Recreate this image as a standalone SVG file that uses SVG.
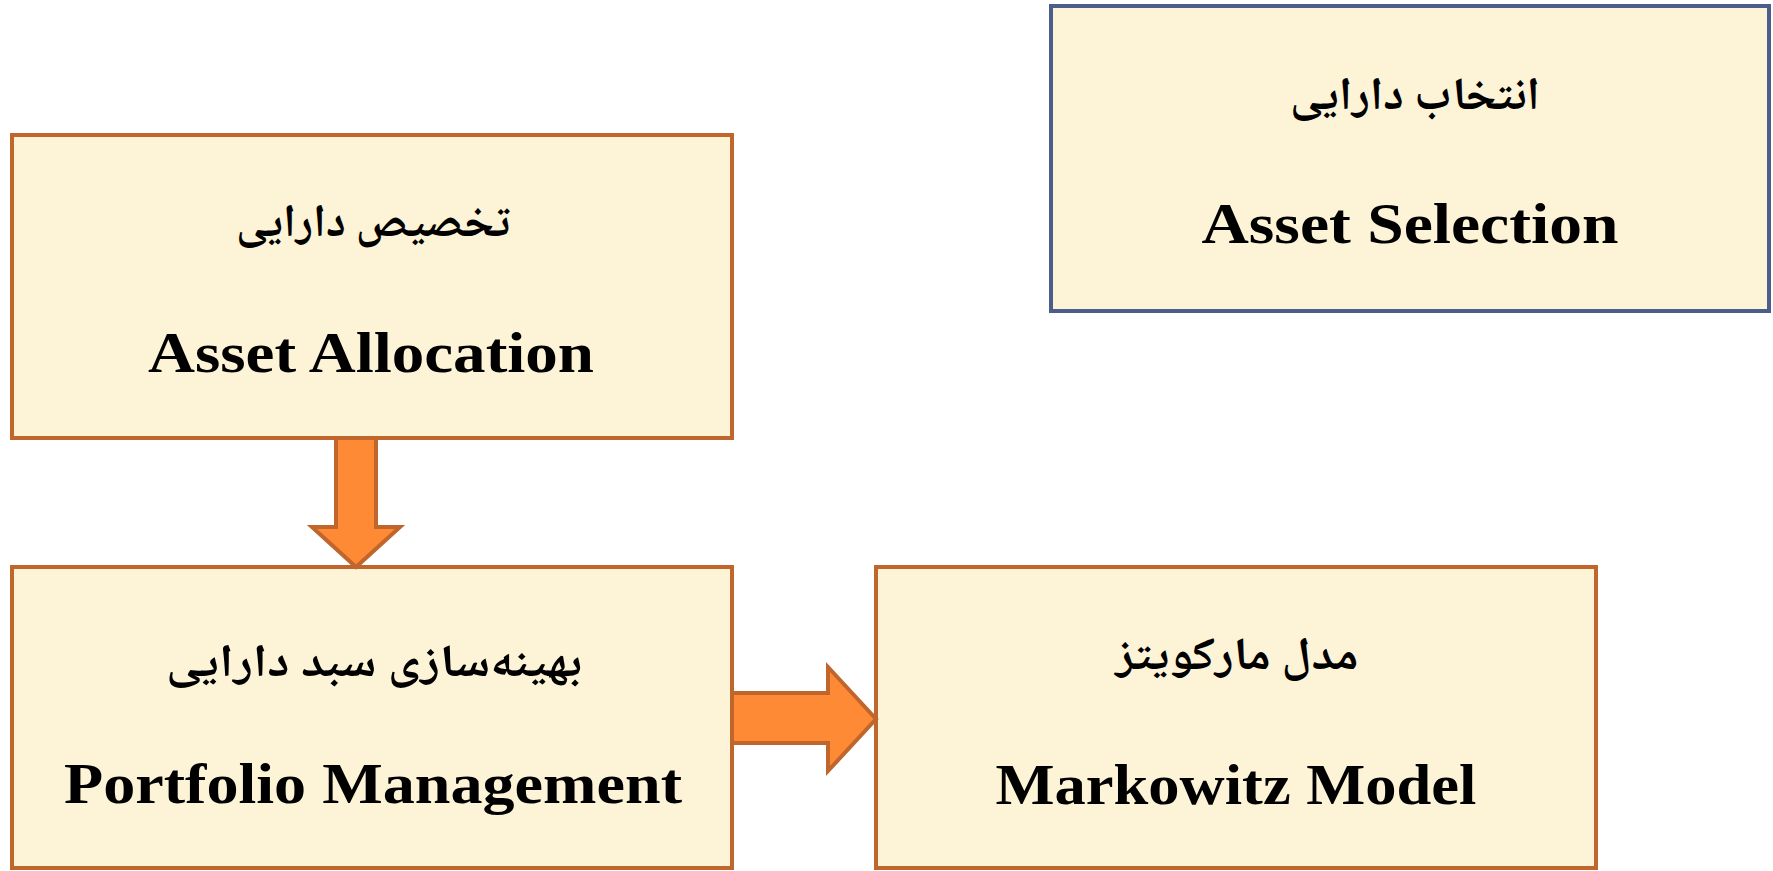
<svg xmlns="http://www.w3.org/2000/svg" width="1773" height="871" viewBox="0 0 1773 871">
<style>
.box{fill:#FDF3D6;stroke:#C0652C;stroke-width:4}
.boxb{fill:#FDF3D6;stroke:#4B5D8A;stroke-width:4}
.fa{font-family:"Noto Naskh Arabic","DejaVu Sans","Noto Sans",sans-serif;font-weight:bold;font-size:46px;fill:#000;text-anchor:middle}
.en{font-family:"Liberation Serif","Times New Roman",serif;font-weight:bold;font-size:57px;fill:#000;text-anchor:middle}
.arr{fill:#FF8A35;stroke:#C0652C;stroke-width:4;stroke-linejoin:miter}
</style>
<rect width="1773" height="871" fill="#FFFFFF"/>
<g id="node-asset-allocation">
<rect class="box" x="12" y="135" width="720" height="303"/>
<text class="fa" x="373" y="236" direction="rtl" textLength="274" lengthAdjust="spacingAndGlyphs">تخصیص دارایی</text>
<text class="en" x="371" y="372" textLength="446" lengthAdjust="spacingAndGlyphs">Asset Allocation</text>
</g>
<g id="node-asset-selection">
<rect class="boxb" x="1051" y="6" width="718" height="305"/>
<text class="fa" x="1415" y="109" direction="rtl" textLength="250" lengthAdjust="spacingAndGlyphs">انتخاب دارایی</text>
<text class="en" x="1410" y="243" textLength="417" lengthAdjust="spacingAndGlyphs">Asset Selection</text>
</g>
<g id="node-portfolio">
<rect class="box" x="12" y="567" width="720" height="301"/>
<text class="fa" x="374" y="676" direction="rtl" textLength="416" lengthAdjust="spacingAndGlyphs">بهینه‌سازی سبد دارایی</text>
<text class="en" x="373" y="803" textLength="618" lengthAdjust="spacingAndGlyphs">Portfolio Management</text>
</g>
<g id="node-markowitz">
<rect class="box" x="876" y="567" width="720" height="301"/>
<text class="fa" x="1237" y="669" direction="rtl" textLength="243" lengthAdjust="spacingAndGlyphs">مدل مارکویتز</text>
<text class="en" x="1236" y="804" textLength="481" lengthAdjust="spacingAndGlyphs">Markowitz Model</text>
</g>
<g id="connectors">
<polygon class="arr" points="336,438 376,438 376,527 400,527 356,567 312,527 336,527"/>
<polygon class="arr" points="732,693 828,693 828,667 876,719 828,771 828,743 732,743"/>
</g>
</svg>
